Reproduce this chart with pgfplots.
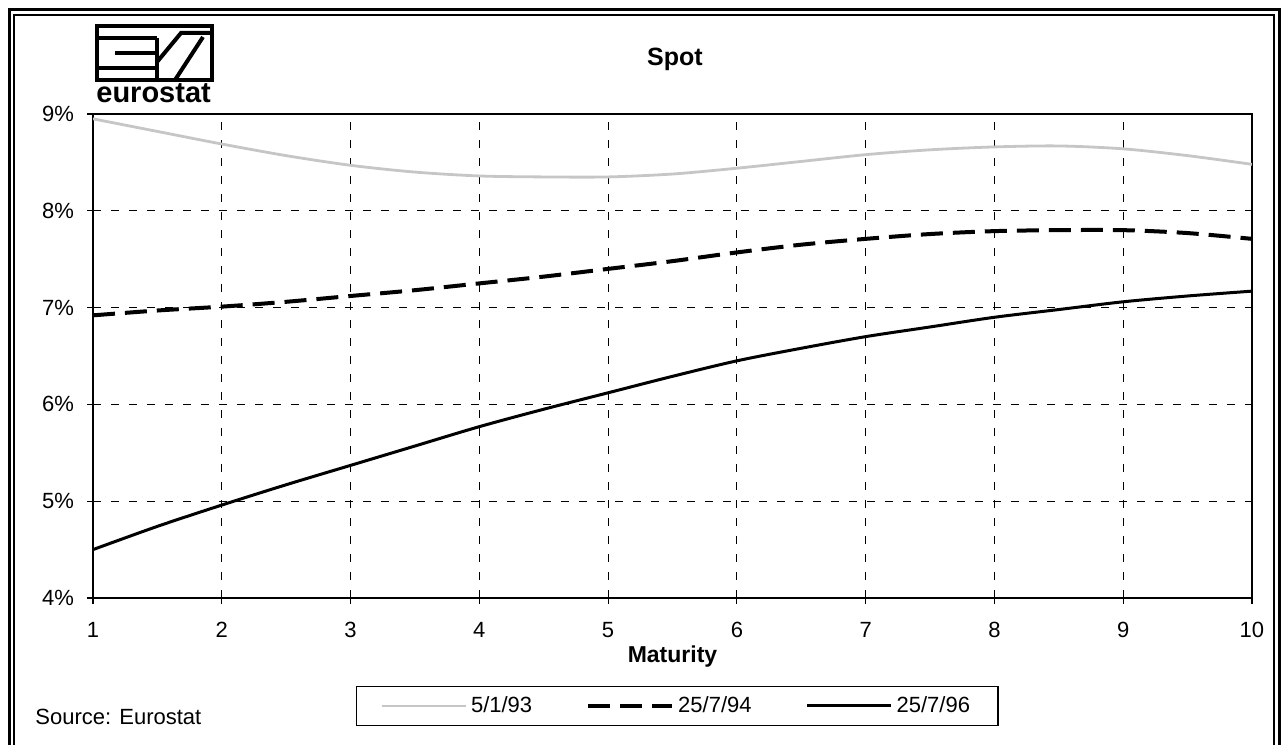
\documentclass[border=0pt]{standalone}
\usepackage{fontspec}
\setmainfont{Liberation Sans}
\usepackage{pgfplots}
\usepackage{pgfplotstable}
\pgfplotsset{compat=1.18}

\pgfplotstableread{
m v
1 8.95
1.5 8.82
2 8.69
2.5 8.57
3 8.47
3.5 8.40
4 8.36
4.5 8.35
5 8.35
5.5 8.38
6 8.44
6.5 8.51
7 8.58
7.5 8.63
8 8.66
8.5 8.67
9 8.64
9.5 8.57
10 8.48
}\tabA
\pgfplotstableread{
m v
1 6.92
1.5 6.97
2 7.01
2.5 7.06
3 7.12
3.5 7.18
4 7.25
4.5 7.32
5 7.40
5.5 7.48
6 7.57
6.5 7.65
7 7.71
7.5 7.76
8 7.79
8.5 7.80
9 7.80
9.5 7.77
10 7.71
}\tabB
\pgfplotstableread{
m v
1 4.50
1.5 4.74
2 4.96
2.5 5.17
3 5.37
3.5 5.57
4 5.77
4.5 5.95
5 6.12
5.5 6.29
6 6.45
6.5 6.58
7 6.70
7.5 6.80
8 6.90
8.5 6.98
9 7.06
9.5 7.12
10 7.17
}\tabC

\begin{document}
\begin{tikzpicture}[x=0.5pt,y=0.5pt]
\path[use as bounding box] (0,0) rectangle (1282,745);
\draw[line width=1.5pt] (9,0)--(9,735)--(1279,735)--(1279,0);
\draw[line width=0.6pt] (14,0)--(14,730)--(1274,730)--(1274,0);
\begin{axis}[
  at={(46.5pt,73.5pt)}, anchor=south west, scale only axis,
  width=579.5pt, height=242pt,
  xmin=1, xmax=10, ymin=4, ymax=9,
  xtick={1,...,10}, ytick={4,...,9},
  xtick pos=left, ytick pos=left,
  tick align=outside, major tick length=3pt,
  grid=major,
  grid style={black, line width=0.6pt, dash pattern=on 4pt off 5pt},
  axis line style={black, line width=1pt},
  tick style={black, line width=0.6pt},
  /pgf/number format/assume math mode=true,
  yticklabel={\pgfmathprintnumber{\tick}\%},
  ticklabel style={font=\fontsize{11}{13}\selectfont},
  xticklabel style={yshift=-5.5pt},
  yticklabel style={xshift=-3pt},
  xlabel={Maturity},
  xlabel style={font=\fontsize{11.5}{13}\selectfont\bfseries, at={(axis description cs:0.5,0)}, anchor=center, yshift=-29.5pt},
  legend columns=3,
  legend style={at={(0.504,-0.223)}, anchor=center, draw=black, line width=0.6pt,
    font=\fontsize{11}{13}\selectfont, inner xsep=12pt, inner ysep=3pt,
    /tikz/every even column/.append style={column sep=25pt}},
  legend image code/.code={\draw[#1] (0pt,0pt) -- (42pt,0pt);},
]
\addplot[gray!45, line width=1.4pt, smooth] table[x=m,y=v]{\tabA};
\addlegendentry{5/1/93}
\addplot[black, line width=2pt, dash pattern=on 11pt off 5pt, smooth] table[x=m,y=v]{\tabB};
\addlegendentry{25/7/94}
\addplot[black, line width=1.5pt, smooth] table[x=m,y=v]{\tabC};
\addlegendentry{25/7/96}
\end{axis}
\begin{scope}[shift={(0,745)}, yscale=-1]
  \node[font=\fontsize{12.5}{15}\selectfont\bfseries] at (675,59) {Spot};
  \node[font=\fontsize{11}{13}\selectfont, anchor=west, inner sep=0pt] at (35,717) {Source: Eurostat};
  % logo
  \draw[line width=2pt] (97,26) rectangle (212,80);
  \draw[line width=2pt] (97,38) -- (157,38);
  \draw[line width=2pt] (115,53) -- (157,53);
  \draw[line width=2pt] (97,68) -- (157,68);
  \draw[line width=2pt] (157,38) -- (157,80);
  \draw[line width=2pt] (157,62) -- (181,33) -- (212,33);
  \draw[line width=2pt] (175,80) -- (203,37);
  \node[font=\fontsize{14.5}{16}\selectfont\bfseries, anchor=base west, inner sep=0pt] at (96,103) {eurostat};
\end{scope}
\end{tikzpicture}
\end{document}
